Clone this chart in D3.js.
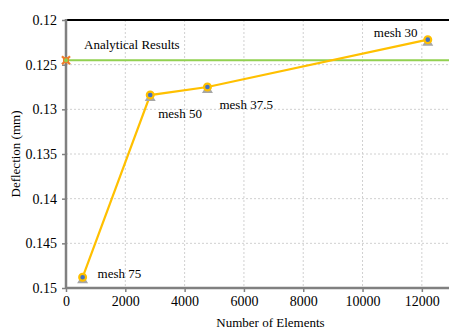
<!DOCTYPE html>
<html>
<head>
<meta charset="utf-8">
<script src="https://cdn.jsdelivr.net/npm/d3@7"></script>
<style>
  body { margin: 0; background: #fff; }
  svg, svg text { font-family: "Liberation Serif", "DejaVu Serif", "Times New Roman", Times, serif !important; }
</style>
</head>
<body>
<div id="chart"></div>
<script>
// mesh results
const meshLabels = ["mesh 75", "mesh 50", "mesh 37.5", "mesh 30"];
const elements = [560, 2840, 4770, 12200];
const deflection = [0.1488, 0.1284, 0.1275, 0.1222];
const analytical = 0.1245;
const xTicks = [0, 2000, 4000, 6000, 8000, 10000, 12000];
const yTicks = [0.12, 0.125, 0.13, 0.135, 0.14, 0.145, 0.15];

const width = 449;
const height = 331;
const marginTop = 20;
const marginBottom = 43;
const marginLeft = 66;

const x = d3.scaleLinear()
    .domain([0, 13000])
    .range([marginLeft, 451.5]);

const y = d3.scaleLinear()
    .domain([0.12, 0.15])
    .range([marginTop, height - marginBottom]);

const svg = d3.select("#chart").append("svg")
    .attr("width", width)
    .attr("height", height)
    .attr("viewBox", [0, 0, width, height]);

// grid
svg.append("g")
    .attr("stroke", "#d0d0d0")
    .attr("stroke-dasharray", "2,2")
    .selectAll("line.v")
    .data(xTicks.slice(1))
    .join("line")
      .attr("x1", d => x(d)).attr("x2", d => x(d))
      .attr("y1", marginTop).attr("y2", y(0.15));

svg.append("g")
    .attr("stroke", "#d0d0d0")
    .attr("stroke-dasharray", "2,2")
    .selectAll("line")
    .data(yTicks.slice(1, -1))
    .join("line")
      .attr("x1", marginLeft).attr("x2", width)
      .attr("y1", d => y(d)).attr("y2", d => y(d));

// top border
svg.append("line")
    .attr("x1", marginLeft).attr("x2", width)
    .attr("y1", y(0.12)).attr("y2", y(0.12))
    .attr("stroke", "#000").attr("stroke-width", 2);

// axes
svg.append("g")
    .attr("transform", `translate(0,${y(0.15)})`)
    .call(d3.axisBottom(x).tickValues(xTicks).tickSize(4).tickPadding(4).tickFormat(d3.format("d")))
    .call(g => g.attr("font-family", null))
    .call(g => g.select(".domain").attr("stroke", "#808080").attr("stroke-width", 2.5)
        .attr("d", `M${marginLeft},0H${width}`))
    .call(g => g.selectAll(".tick line").attr("stroke", "#808080").attr("stroke-width", 1.5))
    .call(g => g.selectAll("text").attr("font-size", 14).attr("fill", "#000"));

svg.append("g")
    .attr("transform", `translate(${marginLeft},0)`)
    .call(d3.axisLeft(y).tickValues(yTicks).tickSize(4).tickPadding(5).tickFormat(d => d3.format("~g")(d)))
    .call(g => g.attr("font-family", null))
    .call(g => g.select(".domain").attr("stroke", "#808080").attr("stroke-width", 2.5)
        .attr("d", `M0,${marginTop - 1}V${y(0.15) + 1}`))
    .call(g => g.selectAll(".tick line").attr("stroke", "#808080").attr("stroke-width", 1.5))
    .call(g => g.selectAll("text").attr("font-size", 14).attr("fill", "#000"));

// axis titles
svg.append("text")
    .attr("x", (marginLeft + width) / 2 + 13)
    .attr("y", 327)
    .attr("text-anchor", "middle")
    .attr("font-size", 13)
    .text("Number of Elements");

svg.append("text")
    .attr("transform", `translate(20,${(y(0.12) + y(0.15)) / 2}) rotate(-90)`)
    .attr("text-anchor", "middle")
    .attr("font-size", 13)
    .text("Deflection (mm)");

// analytical line
svg.append("line")
    .attr("x1", x(0)).attr("x2", width)
    .attr("y1", y(analytical)).attr("y2", y(analytical))
    .attr("stroke", "#92d050").attr("stroke-width", 2);

const am = svg.append("g").attr("transform", `translate(${x(0)},${y(analytical)})`);
am.append("path")
    .attr("d", "M-4,-4L4,4M-4,4L4,-4")
    .attr("stroke", "#f07c28").attr("stroke-width", 2.2);
am.append("rect")
    .attr("x", -3).attr("y", -3).attr("width", 6).attr("height", 6)
    .attr("fill", "#f07c28");
am.append("circle").attr("r", 2).attr("fill", "#92d050");

svg.append("text")
    .attr("x", 84).attr("y", 49)
    .attr("font-size", 13)
    .text("Analytical Results");

// mesh series
const pts = elements.map((e, i) => ({x: e, y: deflection[i], label: meshLabels[i]}));

svg.append("path")
    .datum(pts)
    .attr("fill", "none")
    .attr("stroke", "#ffc000")
    .attr("stroke-width", 2.2)
    .attr("d", d3.line().x(d => x(d.x)).y(d => y(d.y)));

const mk = svg.append("g")
    .selectAll("g")
    .data(pts)
    .join("g")
      .attr("transform", d => `translate(${x(d.x)},${y(d.y)})`);

mk.append("path")
    .attr("d", "M0,-3L5.5,6L-5.5,6Z")
    .attr("fill", "#a6a6a6");
mk.append("circle")
    .attr("r", 3.4)
    .attr("fill", "#4472c4")
    .attr("stroke", "#ffc000")
    .attr("stroke-width", 2.2);

// point labels
const labelOffsets = [[15, 1], [8, 23], [12, 22], [-54, -3]];
svg.append("g")
    .attr("font-size", 13)
    .selectAll("text")
    .data(pts)
    .join("text")
      .attr("x", (d, i) => x(d.x) + labelOffsets[i][0])
      .attr("y", (d, i) => y(d.y) + labelOffsets[i][1])
      .text(d => d.label);
</script>
</body>
</html>
